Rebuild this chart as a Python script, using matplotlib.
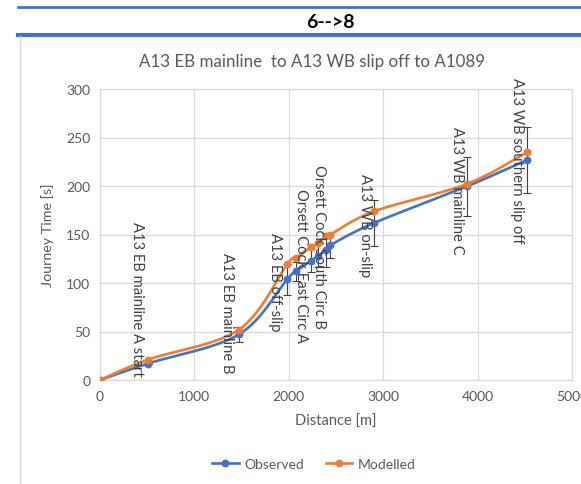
import numpy as np
import matplotlib
matplotlib.use("Agg")
import matplotlib.pyplot as plt
from matplotlib.lines import Line2D

plt.rcParams['font.family'] = ['Lato', 'DejaVu Sans']

# Route distances and journey times
distance_m = [0, 508, 1472, 1984, 2076, 2236, 2310, 2394, 2440, 2906, 3884, 4527]
observed_s = [0, 17, 47, 104, 112, 123, 128, 134, 139, 162, 199.5, 227]
modelled_s = [0, 21, 52, 119.5, 126, 137.5, 141, 148, 150, 174, 202, 235]
observed_err = [0, 0, 8, 16, 10, 12, 12, 18, 13, 24, 30, 34]

point_labels = ["A13 EB mainline A start", "A13 EB mainline B", "A13 EB off-slip",
                "Orsett Cock East Circ A", "Orsett Cock South Circ B", "A13 WB on-slip",
                "A13 WB mainline C", "A13 WB southern slip off"]

x_ticks = [0, 1000, 2000, 3000, 4000, 5000]
y_ticks = [0, 50, 100, 150, 200, 250, 300]

BLUE = "#4472C4"
ORANGE = "#ED7D31"
GREY_TXT = "#595959"
GRID = "#D9D9D9"


def smooth(xs, ys, n=30):
    """Cardinal (Catmull-Rom style) Bezier smoothing through the points."""
    xs = np.asarray(xs, float)
    ys = np.asarray(ys, float)
    pts = np.column_stack([xs, ys])
    out = [pts[0]]
    t = np.linspace(0, 1, n)[1:]
    for i in range(len(pts) - 1):
        p0 = pts[i - 1] if i > 0 else pts[i]
        p1 = pts[i]
        p2 = pts[i + 1]
        p3 = pts[i + 2] if i + 2 < len(pts) else pts[i + 1]
        c1 = p1 + (p2 - p0) / 6.0
        c2 = p2 - (p3 - p1) / 6.0
        seg = ((1 - t) ** 3)[:, None] * p1 + (3 * (1 - t) ** 2 * t)[:, None] * c1 \
            + (3 * (1 - t) * t ** 2)[:, None] * c2 + (t ** 3)[:, None] * p2
        out.extend(seg)
    out = np.array(out)
    return out[:, 0], out[:, 1]


fig = plt.figure(figsize=(5.81, 4.85), dpi=100)
W, H = 581, 485


def fx(px):
    return px / W


def fy(py):
    return 1 - py / H


# Header band: rule, heading, heavier rule
fig.add_artist(Line2D([fx(18), 1], [fy(8), fy(8)], color=BLUE, lw=2.0))
fig.text(fx(330), fy(22), "6-->8", ha="center", va="center", fontsize=14,
         fontweight="bold", color="black")
fig.add_artist(Line2D([fx(18), 1], [fy(35.5), fy(35.5)], color=BLUE, lw=3.0))
# Chart frame edge
fig.add_artist(Line2D([fx(20), fx(20)], [fy(37), 0], color=GRID, lw=1.0))

# Chart title
fig.text(fx(312), fy(62), "A13 EB mainline  to A13 WB slip off to A1089",
         ha="center", va="center", fontsize=12.2, color=GREY_TXT)

ax = fig.add_axes([fx(100), fy(381), (572 - 100) / W, (381 - 90) / H])
ax.set_xlim(0, 5000)
ax.set_ylim(0, 300)
ax.set_xticks(x_ticks)
ax.set_yticks(y_ticks)
ax.grid(True, color=GRID, lw=0.9)
ax.set_axisbelow(True)
for s in ax.spines.values():
    s.set_color(GRID)
    s.set_linewidth(0.9)
ax.tick_params(length=0, labelsize=10, colors=GREY_TXT, pad=7)
ax.set_xlabel("Distance [m]", fontsize=10.5, color=GREY_TXT, labelpad=9)
ax.set_ylabel("Journey Time [s]", fontsize=10.3, color=GREY_TXT, labelpad=9)

sx, sy = smooth(distance_m, observed_s)
ax.plot(sx, sy, color=BLUE, lw=1.9, zorder=3)
ax.plot(distance_m, observed_s, "o", color=BLUE, ms=4.6, zorder=4)
ax.errorbar(distance_m, observed_s, yerr=observed_err, fmt="none",
            ecolor="#404040", elinewidth=0.8, capsize=3, capthick=0.8, zorder=2)

sx, sy = smooth(distance_m, modelled_s)
ax.plot(sx, sy, color=ORANGE, lw=1.9, zorder=3)
ax.plot(distance_m, modelled_s, "o", color=ORANGE, ms=4.6, zorder=4)

# Data label placements: (centre distance, top of label in seconds)
label_spots = [(392, 163.7), (1342, 132), (1854, 152.4), (2126, 197.7),
               (2320, 222.4), (2807, 213), (3779, 262), (4414, 312)]
for text, (lx, ly) in zip(point_labels, label_spots):
    ax.text(lx, ly, text, rotation=270, ha="center", va="top", fontsize=10.6,
            color="#404040", clip_on=False, zorder=5)

handles = [Line2D([], [], color=BLUE, lw=1.9, marker="o", ms=4.6),
           Line2D([], [], color=ORANGE, lw=1.9, marker="o", ms=4.6)]
fig.legend(handles, ["Observed", "Modelled"], loc="center",
           bbox_to_anchor=(fx(314), fy(465)), ncol=2, frameon=False,
           fontsize=10, labelcolor=GREY_TXT, handlelength=1.9,
           columnspacing=1.6, handletextpad=0.4)

fig.savefig("out.png", dpi=100, facecolor="white")
